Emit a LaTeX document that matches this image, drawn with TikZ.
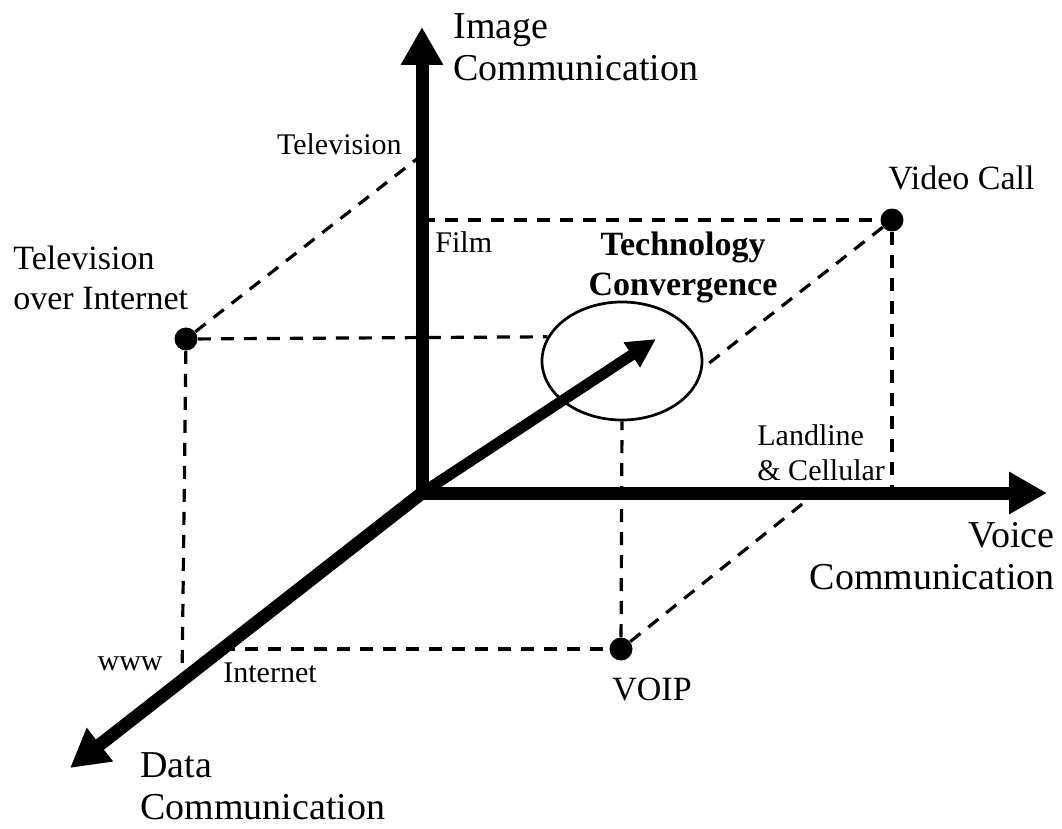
\documentclass[tikz,border=0pt]{standalone}
\usepackage{fontspec}
\setmainfont{Liberation Serif}
\usetikzlibrary{arrows.meta,shapes.geometric}

\begin{document}
\begin{tikzpicture}[x=0.5pt, y=-0.5pt,
        axis/.style={line width=6.5pt, line cap=rect, -{Triangle[width=20pt,length=19pt]}},
        guide/.style={line width=1.6pt, dash pattern=on 6.5pt off 5pt},
        dot/.style={circle, fill, inner sep=0pt, minimum size=11.5pt},
        small/.style={font=\fontsize{15}{17.5}\selectfont, inner sep=0pt},
        medium/.style={font=\fontsize{17}{20}\selectfont, inner sep=0pt},
        large/.style={font=\fontsize{19}{21}\selectfont, inner sep=0pt}]
    \useasboundingbox (0,0) rectangle (1062,829);
    % ends of the axes
    \coordinate (o) at (422,493);
    \coordinate (image) at (422,27);
    \coordinate (voice) at (1047,493);
    \coordinate (data) at (70,768);
    \coordinate (trend) at (656,339);
    % points on the axes
    \coordinate (tv) at (422,155);
    \coordinate (film) at (422,220);
    \coordinate (www) at (182,684);
    \coordinate (inet) at (222,649);
    \coordinate (phone) at (816,493);
    \coordinate (vcfoot) at (892,493);
    % services
    \node[dot] (tvi) at (186,339) {};
    \node[dot] (vcall) at (892,220) {};
    \node[dot] (voip) at (621,649) {};
    \node[draw, ellipse, line width=1.35pt, minimum width=80pt, minimum height=59pt] (conv) at (622,361) {};

    \draw[guide] (tvi) -- (tv);
    \draw[guide] (tvi) -- (conv.162);
    \draw[guide] (tvi) -- (www);
    \draw[guide] (inet) -- (voip);
    \draw[guide] (voip) -- (conv.south);
    \draw[guide] (voip) -- (phone);
    \draw[guide] (film) -- (vcall);
    \draw[guide] (vcall) -- (vcfoot);
    \draw[guide] (vcall) -- (conv.-5);

    \draw[axis] (o) -- (image);
    \draw[axis] (o) -- (voice);
    \draw[axis] (o) -- (data);
    \draw[line width=5.5pt, -{Triangle[width=14pt,length=14.5pt]}] (o) -- (trend);

    \node[large, anchor=north west, align=left] (imagelbl) at (453,13) {Image\\Communication};
    \node[large, anchor=north east, align=right] (voicelbl) at (1055,522) {Voice\\Communication};
    \node[large, anchor=north west, align=left] (datalbl) at (140,752) {Data\\Communication};
    \node[medium, anchor=north west, align=left] (tvilbl) at (13,246) {Television\\over Internet};
    \node[medium, anchor=base west] (vcalllbl) at (888,190) {Video Call};
    \node[medium, anchor=base west] (voiplbl) at (612,700) {VOIP};
    \node[small, anchor=base east] (tvlbl) at (402,155) {Television};
    \node[small, anchor=base west] (filmlbl) at (435,253) {Film};
    \node[small, anchor=north west, align=left] (phonelbl) at (757,424) {Landline\\\& Cellular};
    \node[small, anchor=base east] (wwwlbl) at (163,670) {www};
    \node[small, anchor=base west] (inetlbl) at (223,682) {Internet};
    \node[font=\bfseries\fontsize{17}{20}\selectfont, anchor=north, align=center, inner sep=0pt] (convlbl) at (683,232) {Technology\\Convergence};
\end{tikzpicture}
\end{document}
